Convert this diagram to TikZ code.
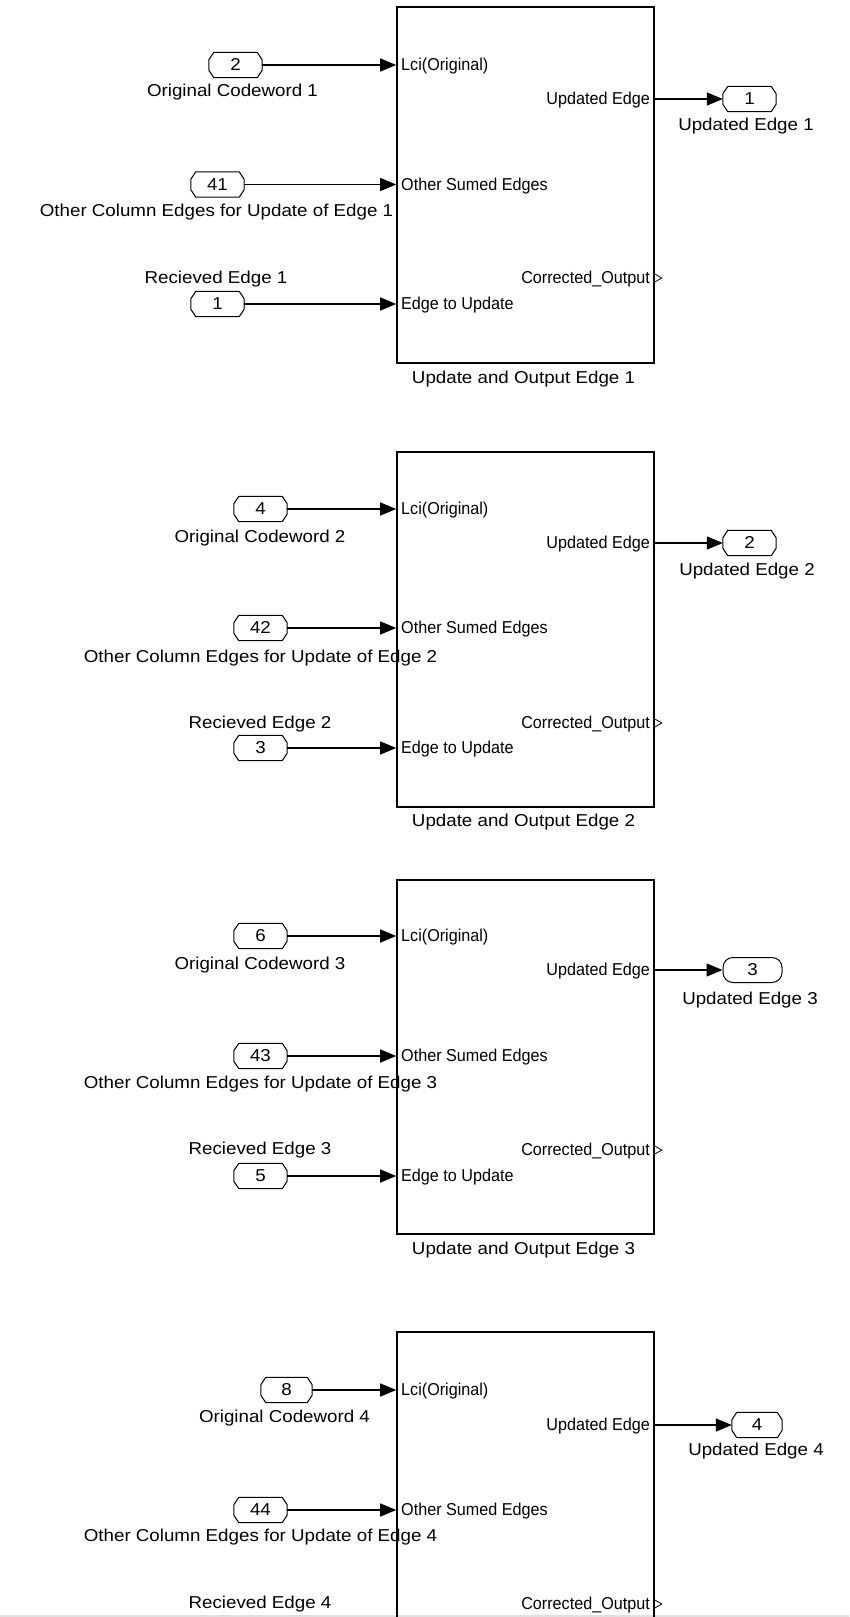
\documentclass[tikz,border=0pt]{standalone}
\usepackage{fontspec}
\setmainfont{Liberation Sans}
\newfontfamily\lblfont[FakeStretch=1.09]{Liberation Sans}
\newfontfamily\prtfont[FakeStretch=0.94]{Liberation Sans}
\usetikzlibrary{arrows.meta}

\tikzset{
  block/.style={draw, line width=1.6pt, minimum width=257pt, inner sep=0pt},
  % port block with chamfered corners, outline drawn around the node box
  port/.style={minimum width=53pt, minimum height=25pt, inner sep=0pt,
               font=\lblfont\fontsize{17.2}{20}\selectfont, text height=11.9pt, text depth=0pt,
               append after command={\pgfextra{\draw[line width=1pt, line join=miter]
                 ([xshift=5pt]\tikzlastnode.north west) -- ([xshift=-5pt]\tikzlastnode.north east)
                 -- ([yshift=-7.5pt]\tikzlastnode.north east) -- ([yshift=7.5pt]\tikzlastnode.south east)
                 -- ([xshift=-5pt]\tikzlastnode.south east) -- ([xshift=5pt]\tikzlastnode.south west)
                 -- ([yshift=7.5pt]\tikzlastnode.south west) -- ([yshift=-7.5pt]\tikzlastnode.north west)
                 -- cycle;}}},
  roundport/.style={draw, line width=1pt, rounded corners=10pt, minimum width=59pt,
               minimum height=25pt, inner sep=0pt,
               font=\lblfont\fontsize{17.2}{20}\selectfont, text height=11.9pt, text depth=0pt},
  lbl/.style={inner sep=0pt, font=\lblfont\fontsize{17.2}{20}\selectfont,
              text height=11.9pt, text depth=0pt},
  plbl/.style={inner sep=0pt, font=\prtfont\fontsize{17.2}{20}\selectfont,
               text height=11.9pt, text depth=0pt},
  conn/.style={line width=1.3pt, -{Triangle[length=16pt,width=13pt]}},
  outmark/.style={line width=0.8pt, line join=miter}
}

\begin{document}
\begin{tikzpicture}[x=1pt,y=-1pt]
\useasboundingbox (0,0) rectangle (849,1617);
\clip (0,0) rectangle (849,1617);
\fill[white] (0,0) rectangle (849,1617);
\fill[black!12] (0,1615) rectangle (849,1617);

% ---------- Update and Output Edge 1 ----------
\node[block, minimum height=356pt] (b1) at (525.5,185) {};
\node[plbl, anchor=west] (b1lci) at (401,65) {Lci(Original)};
\node[plbl, anchor=west] (b1oth) at (401,184.5) {Other Sumed Edges};
\node[plbl, anchor=west] (b1etu) at (401,304) {Edge to Update};
\node[plbl, anchor=east] (b1upd) at (650,99) {Updated Edge};
\node[plbl, anchor=east] (b1cor) at (650,278) {Corrected\_Output};
\node[lbl] (t1) at (523.5,378) {Update and Output Edge 1};

\node[port] (i1a) at (235.5,65) {2};
\node[port] (i1b) at (217.5,184.5) {41};
\node[port] (i1c) at (217.5,304) {1};
\node[lbl] (l1a) at (232.5,91) {Original Codeword 1};
\node[lbl] (l1b) at (216.5,211) {Other Column Edges for Update of Edge 1};
\node[lbl] (l1c) at (216,278) {Recieved Edge 1};
\node[port] (o1) at (749.5,99) {1};
\node[lbl] (lo1) at (746,125) {Updated Edge 1};

\draw[conn] (i1a.east) -- (i1a -| b1.west);
\draw[conn] (i1b.east) -- (i1b -| b1.west);
\draw[conn] (i1c.east) -- (i1c -| b1.west);
\draw[conn] (b1.east |- b1upd) -- (o1.west);
\draw[outmark] (b1.east |- b1cor) ++(0,-4) -- ++(7,4) -- ++(-7,4);

% ---------- Update and Output Edge 2 ----------
\node[block, minimum height=355pt] (b2) at (525.5,629.5) {};
\node[plbl, anchor=west] (b2lci) at (401,509) {Lci(Original)};
\node[plbl, anchor=west] (b2oth) at (401,628) {Other Sumed Edges};
\node[plbl, anchor=west] (b2etu) at (401,748) {Edge to Update};
\node[plbl, anchor=east] (b2upd) at (650,543) {Updated Edge};
\node[plbl, anchor=east] (b2cor) at (650,723) {Corrected\_Output};
\node[lbl] (t2) at (523.5,821) {Update and Output Edge 2};

\node[port] (i2a) at (260.5,509) {4};
\node[port] (i2b) at (260.5,628) {42};
\node[port] (i2c) at (260.5,748) {3};
\node[lbl] (l2a) at (260,537) {Original Codeword 2};
\node[lbl] (l2b) at (260.5,657) {Other Column Edges for Update of Edge 2};
\node[lbl] (l2c) at (260,723) {Recieved Edge 2};
\node[port] (o2) at (749.5,543) {2};
\node[lbl] (lo2) at (747,570) {Updated Edge 2};

\draw[conn] (i2a.east) -- (i2a -| b2.west);
\draw[conn] (i2b.east) -- (i2b -| b2.west);
\draw[conn] (i2c.east) -- (i2c -| b2.west);
\draw[conn] (b2.east |- b2upd) -- (o2.west);
\draw[outmark] (b2.east |- b2cor) ++(0,-4) -- ++(7,4) -- ++(-7,4);

% ---------- Update and Output Edge 3 ----------
\node[block, minimum height=354pt] (b3) at (525.5,1057) {};
\node[plbl, anchor=west] (b3lci) at (401,936) {Lci(Original)};
\node[plbl, anchor=west] (b3oth) at (401,1056) {Other Sumed Edges};
\node[plbl, anchor=west] (b3etu) at (401,1176) {Edge to Update};
\node[plbl, anchor=east] (b3upd) at (650,970) {Updated Edge};
\node[plbl, anchor=east] (b3cor) at (650,1150) {Corrected\_Output};
\node[lbl] (t3) at (523.5,1249) {Update and Output Edge 3};

\node[port] (i3a) at (260.5,936) {6};
\node[port] (i3b) at (260.5,1056) {43};
\node[port] (i3c) at (260.5,1176) {5};
\node[lbl] (l3a) at (260,964) {Original Codeword 3};
\node[lbl] (l3b) at (260.5,1083) {Other Column Edges for Update of Edge 3};
\node[lbl] (l3c) at (260,1149) {Recieved Edge 3};
\node[roundport] (o3) at (752.5,970) {3};
\node[lbl] (lo3) at (750,999) {Updated Edge 3};

\draw[conn] (i3a.east) -- (i3a -| b3.west);
\draw[conn] (i3b.east) -- (i3b -| b3.west);
\draw[conn] (i3c.east) -- (i3c -| b3.west);
\draw[conn] (b3.east |- b3upd) -- (o3.west);
\draw[outmark] (b3.east |- b3cor) ++(0,-4) -- ++(7,4) -- ++(-7,4);

% ---------- Update and Output Edge 4 ----------
\node[block, minimum height=355pt] (b4) at (525.5,1509.5) {};
\node[plbl, anchor=west] (b4lci) at (401,1390) {Lci(Original)};
\node[plbl, anchor=west] (b4oth) at (401,1510) {Other Sumed Edges};
\node[plbl, anchor=east] (b4upd) at (650,1425) {Updated Edge};
\node[plbl, anchor=east] (b4cor) at (650,1604) {Corrected\_Output};

\node[port, minimum width=51pt] (i4a) at (286.5,1390) {8};
\node[port] (i4b) at (260.5,1510) {44};
\node[lbl] (l4a) at (284.5,1417) {Original Codeword 4};
\node[lbl] (l4b) at (260.5,1536) {Other Column Edges for Update of Edge 4};
\node[lbl] (l4c) at (260,1603) {Recieved Edge 4};
\node[port, minimum width=50pt] (o4) at (757,1425) {4};
\node[lbl] (lo4) at (756,1450) {Updated Edge 4};

\draw[conn] (i4a.east) -- (i4a -| b4.west);
\draw[conn] (i4b.east) -- (i4b -| b4.west);
\draw[conn] (b4.east |- b4upd) -- (o4.west);
\draw[outmark] (b4.east |- b4cor) ++(0,-4) -- ++(7,4) -- ++(-7,4);
\end{tikzpicture}
\end{document}
